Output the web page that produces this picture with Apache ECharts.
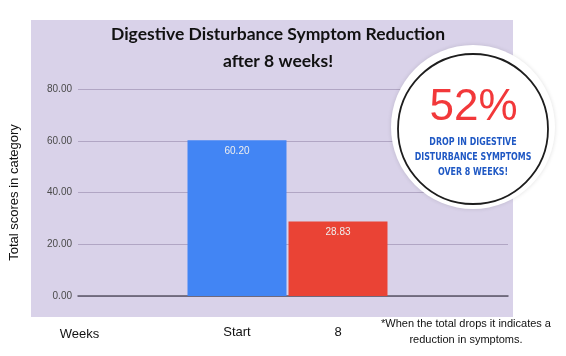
<!DOCTYPE html>
<html>
<head>
<meta charset="utf-8">
<script src="https://cdn.jsdelivr.net/npm/echarts@6/dist/echarts.min.js"></script>
<style>html,body{margin:0;padding:0;background:#fff}#c{width:566px;height:356px}</style>
</head>
<body>
<div id="c"></div>
<script>
var titleLines = ["Digestive Disturbance Symptom Reduction", "after 8 weeks!"];
var categories = ["Start", "8"];
var values = [60.20, 28.83];
var barColors = ["#4285f4", "#ea4335"];
var yTicks = [0, 20, 40, 60, 80];
var yTitle = "Total scores in category";
var xTitle = "Weeks";
var badgeBig = "52%";
var badgeLines = ["DROP IN DIGESTIVE", "DISTURBANCE SYMPTOMS", "OVER 8 WEEKS!"];
var footnote = ["*When the total drops it indicates a", "reduction in symptoms."];

var chart = echarts.init(document.getElementById('c'), null, {renderer: 'canvas'});
var yMin = yTicks[0], yMax = yTicks[yTicks.length - 1], yStep = yTicks[1] - yTicks[0];

chart.setOption({
  backgroundColor: '#ffffff',
  animation: false,
  title: {
    text: titleLines.join('\n'),
    left: 278, top: 21, textAlign: 'center', padding: 0,
    textStyle: {fontFamily: 'Lato', fontWeight: 'bold', fontSize: 17.5, color: '#111', lineHeight: 27}
  },
  grid: [
    {left: 77, right: 58, top: 89, bottom: 60},
    {left: 186.5, right: 177.5, top: 89, bottom: 60}
  ],
  xAxis: [
    {gridIndex: 0, type: 'value', min: 0, max: 1, axisLabel: {show: false}, axisTick: {show: false},
     splitLine: {show: false}, axisLine: {show: true, lineStyle: {color: '#5a5566', width: 1.5}}},
    {gridIndex: 1, type: 'category', data: categories, axisLine: {show: false}, axisTick: {show: false},
     axisLabel: {fontFamily: 'Liberation Sans', fontSize: 13, color: '#111', margin: 30}}
  ],
  yAxis: [
    {gridIndex: 0, type: 'value', min: yMin, max: yMax, interval: yStep,
     name: yTitle, nameLocation: 'middle', nameGap: 57, nameRotate: 90,
     nameTextStyle: {fontFamily: 'Liberation Sans', fontSize: 13, color: '#111'},
     axisLine: {show: false}, axisTick: {show: false},
     axisLabel: {formatter: function (v) { return v.toFixed(2); }, fontFamily: 'Liberation Sans', fontSize: 10, color: '#4a4a4a', margin: 6},
     splitLine: {lineStyle: {color: '#b1a6c4', width: 1}}},
    {gridIndex: 1, type: 'value', min: yMin, max: yMax, interval: yStep, show: false, splitLine: {show: false}}
  ],
  series: [{
    type: 'bar', xAxisIndex: 1, yAxisIndex: 1, barCategoryGap: '2%',
    data: values.map(function (v, i) { return {value: v, itemStyle: {color: barColors[i]}}; }),
    label: {show: true, position: 'insideTop', distance: 6, color: '#eeeeee', fontFamily: 'Liberation Sans', fontSize: 10,
      formatter: function (p) { return p.value.toFixed(2); }},
    z: 5
  }],
  graphic: [
    {type: 'rect', z: -100, silent: true, shape: {x: 31, y: 20, width: 482, height: 297}, style: {fill: '#d9d2e9'}},
    {type: 'text', z: 10, style: {text: xTitle, x: 79.5, y: 334, align: 'center', verticalAlign: 'middle',
      fontFamily: 'Liberation Sans', fontSize: 13, fill: '#111'}},
    {type: 'text', z: 10, style: {text: footnote.join('\n'), x: 466, y: 332, align: 'center', verticalAlign: 'middle',
      fontFamily: 'Liberation Sans', fontSize: 11, lineHeight: 16, fill: '#111'}},
    {type: 'circle', z: 100, shape: {cx: 473, cy: 127, r: 82},
      style: {fill: '#ffffff', shadowBlur: 4, shadowColor: 'rgba(0,0,0,0.12)'}},
    {type: 'circle', z: 101, shape: {cx: 473, cy: 129, r: 75}, style: {fill: 'none', stroke: '#1d1d1d', lineWidth: 1.8}},
    {type: 'text', z: 102, style: {text: badgeBig, x: 473.5, y: 108, align: 'center', verticalAlign: 'middle',
      fontFamily: 'Liberation Sans', fontSize: 44, fill: '#f2383a'}},
    {type: 'text', z: 102, x: 473, y: 157, scaleX: 0.8, originX: 0, originY: 0,
      style: {text: badgeLines.join('\n'), x: 0, y: 0, align: 'center', verticalAlign: 'middle',
      fontFamily: 'DejaVu Sans Condensed, DejaVu Sans, sans-serif', fontWeight: 'bold', fontSize: 11, lineHeight: 14.7, fill: '#1f58c4'}}
  ]
});
</script>
</body>
</html>
